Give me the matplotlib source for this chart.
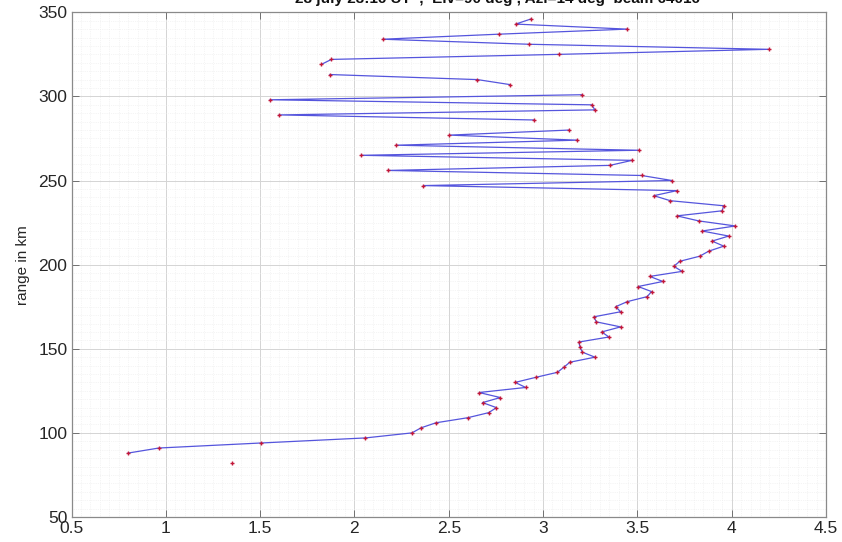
import numpy as np
import matplotlib
matplotlib.use("Agg")
import matplotlib.pyplot as plt
from matplotlib.ticker import MultipleLocator

plt.rcParams['font.family'] = ['Liberation Sans', 'DejaVu Sans']

# range gates (km)
range_km = [82, 85, 88, 91, 94, 97, 100, 103, 106, 109, 112, 115, 118, 121, 124,
            127, 130, 133, 136, 139, 142, 145, 148, 151, 154, 157, 160, 163, 166,
            169, 172, 175, 178, 181, 184, 187, 190, 193, 196, 199, 202, 205, 208,
            211, 214, 217, 220, 223, 226, 229, 232, 235, 238, 241, 244, 247, 250,
            253, 256, 259, 262, 265, 268, 271, 274, 277, 280, 283, 286, 289, 292,
            295, 298, 301, 304, 307, 310, 313, 316, 319, 322, 325, 328, 331, 334,
            337, 340, 343, 346]

# measured value per gate (nan = no data)
nan = np.nan
value = [1.353, nan, 0.800, 0.963, 1.506, 2.058, 2.305, 2.353, 2.432, 2.600,
         2.711, 2.753, 2.679, 2.773, 2.661, 2.908, 2.852, 2.961, 3.076, 3.110,
         3.142, 3.275, 3.208, 3.196, 3.190, 3.349, 3.311, 3.411, 3.282, 3.270,
         3.411, 3.385, 3.446, 3.552, 3.575, 3.504, 3.635, 3.566, 3.737, 3.693,
         3.725, 3.830, 3.878, 3.958, 3.896, 3.984, 3.843, 4.019, 3.825, 3.710,
         3.949, 3.958, 3.675, 3.587, 3.710, 2.365, 3.684, 3.522, 2.176, 3.354,
         3.472, 2.035, 3.508, 2.220, 3.182, 2.503, 3.138, nan, 2.952, 1.600,
         3.275, 3.258, 1.552, 3.208, nan, 2.826, 2.652, 1.870, nan, 1.824,
         1.878, 3.085, 4.196, 2.926, 2.150, 2.767, 3.446, 2.855, 2.935]

title_text = "28 july 23:16 UT  ,  Elv=90 deg , Azi=14 deg  beam 64016"

fig = plt.figure(figsize=(8.42, 5.42), dpi=100)
ax = fig.add_axes([71.5 / 842, 25 / 542, 754.5 / 842, 504.7 / 542])

ax.plot(value, range_km, color='#5555dd', linewidth=0.9, zorder=3)
ax.plot(value, range_km, linestyle='none', marker='+', markersize=3.5,
        markeredgewidth=1.0, color='#c2183a', zorder=4)

ax.set_xlim(0.5, 4.5)
ax.set_ylim(50, 350)
ax.xaxis.set_major_locator(MultipleLocator(0.5))
ax.yaxis.set_major_locator(MultipleLocator(50))
ax.xaxis.set_minor_locator(MultipleLocator(0.05))
ax.yaxis.set_minor_locator(MultipleLocator(5))
ax.set_xticklabels([f"{t:g}" for t in ax.get_xticks()])

ax.grid(which='major', color='#d4d4d4', linewidth=0.7, zorder=0)
ax.grid(which='minor', color='#ebebeb', linewidth=0.5, linestyle=':', zorder=0)
ax.set_axisbelow(True)

for s in ax.spines.values():
    s.set_color('#8a8a8a')
    s.set_linewidth(0.9)
ax.tick_params(which='major', direction='in', length=5, width=0.7,
               color='#707070', top=True, right=True, labelsize=12.5,
               labelcolor='#262626', pad=3)
ax.tick_params(which='minor', length=0, top=True, right=True)

ax.set_ylabel("range in km", fontsize=11, color='#262626', labelpad=6)

fig.text(497 / 842, 1 - 3.5 / 542, title_text, ha='center', va='baseline',
         fontsize=11, fontweight='bold', color='#111111')

fig.savefig("out.png", dpi=100)
